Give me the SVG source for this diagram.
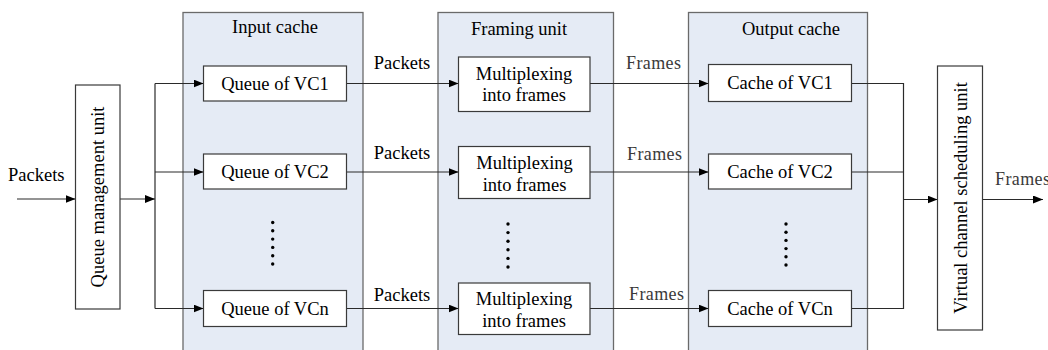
<svg xmlns="http://www.w3.org/2000/svg" width="1048" height="350" viewBox="0 0 1048 350">
  <style>
    .panel { fill: #e5ebf5; stroke: #6a6a6a; stroke-width: 1.3; }
    .box { fill: #ffffff; stroke: #3a3a3a; stroke-width: 1.2; }
    .t { font-family: "Liberation Serif", "Times New Roman", serif; font-size: 18.5px; fill: #000; }
    .mid { text-anchor: middle; }
    .mono { font-family: "Liberation Serif", "Times New Roman", serif; font-size: 18px; fill: #3a3a3a; }
    .wire { fill: none; stroke: #2a2a2a; stroke-width: 1.2; }
    .dot { fill: #000; }
  </style>
  <defs>
    <marker id="arrow" viewBox="0 0 10 8" refX="10" refY="4" markerWidth="10" markerHeight="8" markerUnits="userSpaceOnUse" orient="auto">
      <path d="M0,0 L10,4 L0,8 Z" fill="#000"/>
    </marker>
  </defs>

  <rect width="1048" height="350" fill="#ffffff"/>

  <!-- Container panels -->
  <g id="input-cache">
    <rect class="panel" x="183" y="12.5" width="180" height="345"/>
    <text class="t mid" x="275" y="33">Input cache</text>
  </g>
  <g id="framing-unit">
    <rect class="panel" x="438" y="12.5" width="175.5" height="345"/>
    <text class="t mid" x="519" y="35">Framing unit</text>
  </g>
  <g id="output-cache">
    <rect class="panel" x="688.5" y="12.5" width="179" height="345"/>
    <text class="t mid" x="791" y="35">Output cache</text>
  </g>

  <!-- Connectors -->
  <g id="connectors">
    <path class="wire" d="M17,199 H75.5" marker-end="url(#arrow)"/>
    <path class="wire" d="M120,199 H155" marker-end="url(#arrow)"/>
    <path class="wire" d="M155,83.5 V308.5"/>
    <path class="wire" d="M155,83.5 H203.5" marker-end="url(#arrow)"/>
    <path class="wire" d="M155,172 H203.5" marker-end="url(#arrow)"/>
    <path class="wire" d="M155,308.5 H203.5" marker-end="url(#arrow)"/>

    <path class="wire" d="M346.5,83.5 H458.5" marker-end="url(#arrow)"/>
    <path class="wire" d="M346.5,172 H458.5" marker-end="url(#arrow)"/>
    <path class="wire" d="M346.5,308.5 H458.5" marker-end="url(#arrow)"/>

    <path class="wire" d="M590,83.5 H708.5" marker-end="url(#arrow)"/>
    <path class="wire" d="M590,172 H708.5" marker-end="url(#arrow)"/>
    <path class="wire" d="M590,308.5 H708.5" marker-end="url(#arrow)"/>

    <path class="wire" d="M851.5,83.5 H903.5 V308.5 H851.5"/>
    <path class="wire" d="M851.5,172 H903.5"/>
    <path class="wire" d="M903.5,199.5 H937.5" marker-end="url(#arrow)"/>
    <path class="wire" d="M982.5,199.5 H1043" marker-end="url(#arrow)"/>

    <text class="t" x="8" y="181">Packets</text>
    <text class="t mid" x="402" y="69">Packets</text>
    <text class="t mid" x="402" y="159">Packets</text>
    <text class="t mid" x="402" y="300.5">Packets</text>
    <text class="mono" x="626" y="69" textLength="55" lengthAdjust="spacing">Frames</text>
    <text class="mono" x="627" y="159.5" textLength="55" lengthAdjust="spacing">Frames</text>
    <text class="mono" x="629" y="300" textLength="55" lengthAdjust="spacing">Frames</text>
    <text class="mono" x="995" y="185" textLength="55" lengthAdjust="spacing">Frames</text>
  </g>

  <!-- Queue management unit -->
  <g id="queue-management">
    <rect class="box" x="75.5" y="85" width="44.5" height="224"/>
    <text class="t mid" transform="translate(104,197) rotate(-90)" x="0" y="0">Queue management unit</text>
  </g>

  <!-- Input queues -->
  <g id="queue-vc1">
    <rect class="box" x="203.5" y="66" width="143" height="35"/>
    <text class="t mid" x="275" y="89.5">Queue of VC1</text>
  </g>
  <g id="queue-vc2">
    <rect class="box" x="203.5" y="154" width="143" height="35"/>
    <text class="t mid" x="275" y="177.5">Queue of VC2</text>
  </g>
  <g id="queue-vcn">
    <rect class="box" x="203.5" y="290.5" width="143" height="36"/>
    <text class="t mid" x="275" y="314.5">Queue of VCn</text>
  </g>
  <g id="queue-ellipsis">
    <circle class="dot" cx="272.7" cy="222.5" r="1.7"/>
    <circle class="dot" cx="272.7" cy="230.8" r="1.7"/>
    <circle class="dot" cx="272.7" cy="239.1" r="1.7"/>
    <circle class="dot" cx="272.7" cy="247.4" r="1.7"/>
    <circle class="dot" cx="272.7" cy="255.7" r="1.7"/>
    <circle class="dot" cx="272.7" cy="264" r="1.7"/>
  </g>

  <!-- Framing (multiplexing) blocks -->
  <g id="mux-1">
    <rect class="box" x="458.5" y="57" width="131.5" height="54.5"/>
    <text class="t mid" x="524" y="79.5">Multiplexing</text>
    <text class="t mid" x="524" y="101">into frames</text>
  </g>
  <g id="mux-2">
    <rect class="box" x="458.5" y="146.5" width="131.5" height="52"/>
    <text class="t mid" x="524.5" y="168.5">Multiplexing</text>
    <text class="t mid" x="524.5" y="190.5">into frames</text>
  </g>
  <g id="mux-n">
    <rect class="box" x="458.5" y="283" width="131.5" height="51.5"/>
    <text class="t mid" x="524" y="305">Multiplexing</text>
    <text class="t mid" x="524" y="327">into frames</text>
  </g>
  <g id="mux-ellipsis">
    <circle class="dot" cx="508" cy="224" r="1.7"/>
    <circle class="dot" cx="508" cy="232.6" r="1.7"/>
    <circle class="dot" cx="508" cy="241.2" r="1.7"/>
    <circle class="dot" cx="508" cy="249.8" r="1.7"/>
    <circle class="dot" cx="508" cy="258.4" r="1.7"/>
    <circle class="dot" cx="508" cy="267" r="1.7"/>
  </g>

  <!-- Output caches -->
  <g id="cache-vc1">
    <rect class="box" x="708.5" y="64.5" width="143" height="37"/>
    <text class="t mid" x="780" y="89">Cache of VC1</text>
  </g>
  <g id="cache-vc2">
    <rect class="box" x="708.5" y="154" width="143" height="35"/>
    <text class="t mid" x="780" y="177.5">Cache of VC2</text>
  </g>
  <g id="cache-vcn">
    <rect class="box" x="708.5" y="290.5" width="143" height="36"/>
    <text class="t mid" x="780" y="314.5">Cache of VCn</text>
  </g>
  <g id="cache-ellipsis">
    <circle class="dot" cx="786" cy="224" r="1.7"/>
    <circle class="dot" cx="786" cy="232.2" r="1.7"/>
    <circle class="dot" cx="786" cy="240.4" r="1.7"/>
    <circle class="dot" cx="786" cy="248.6" r="1.7"/>
    <circle class="dot" cx="786" cy="256.8" r="1.7"/>
    <circle class="dot" cx="786" cy="265" r="1.7"/>
  </g>

  <!-- Virtual channel scheduling unit -->
  <g id="vc-scheduler">
    <rect class="box" x="937.5" y="66" width="45" height="264"/>
    <text class="t mid" transform="translate(966.5,198) rotate(-90)" x="0" y="0">Virtual channel scheduling unit</text>
  </g>
</svg>
